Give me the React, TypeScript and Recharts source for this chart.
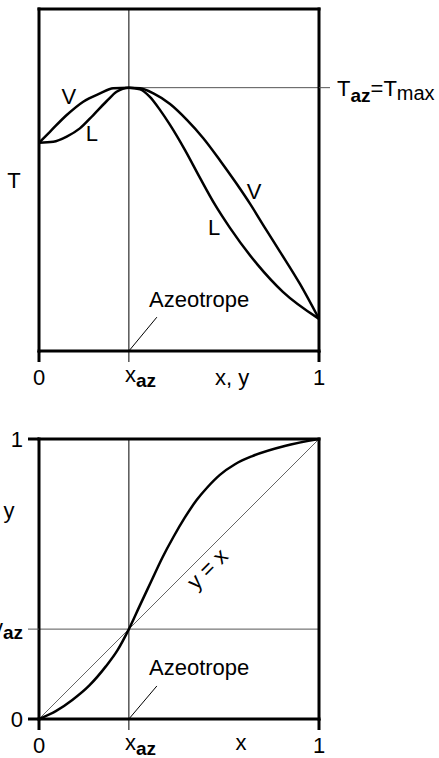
import { LineChart, Line, XAxis, YAxis, ReferenceLine, ReferenceDot } from 'recharts';

const FONT = '"Liberation Sans", Arial, Helvetica, sans-serif';

// azeotrope point (mole fraction, temperature in relative units)
const X_AZ = 0.321;
const Y_AZ = 0.321;
const T_AZ = 77.0;

// dew curve (vapour)
const VAP_X = [0, 0.039, 0.099, 0.158, 0.218, 0.265, 0.321, 0.361, 0.407, 0.468, 0.529, 0.586, 0.646, 0.704, 0.754, 0.807, 0.861, 0.932, 1];
const VAP_T = [60.9, 64.1, 69.0, 72.9, 75.3, 76.8, 77.0, 76.8, 75.4, 72.2, 67.5, 62.3, 55.8, 49.1, 43.0, 36.0, 29.0, 19.6, 9.4];

// bubble curve (liquid)
const LIQ_X = [0, 0.051, 0.099, 0.146, 0.194, 0.242, 0.277, 0.321, 0.361, 0.396, 0.432, 0.468, 0.521, 0.575, 0.629, 0.682, 0.779, 0.871, 1];
const LIQ_T = [60.9, 61.2, 62.7, 65.1, 69.0, 73.1, 75.8, 77.0, 76.5, 74.3, 70.5, 66.1, 58.8, 50.6, 42.7, 36.0, 25.4, 17.3, 9.4];

// equilibrium curve y(x)
const EQ_X = [0, 0.06, 0.119, 0.18, 0.238, 0.28, 0.321, 0.36, 0.4, 0.44, 0.48, 0.52, 0.563, 0.6, 0.646, 0.7, 0.762, 0.881, 1];
const EQ_Y = [0, 0.028, 0.068, 0.12, 0.187, 0.245, 0.321, 0.405, 0.49, 0.575, 0.65, 0.718, 0.782, 0.826, 0.872, 0.91, 0.939, 0.976, 1];

const vapour = VAP_X.map((x, i) => ({ x, T: VAP_T[i] }));
const liquid = LIQ_X.map((x, i) => ({ x, T: LIQ_T[i] }));
const equilibrium = EQ_X.map((x, i) => ({ x, y: EQ_Y[i] }));

const TICK = 11;
const GAP = 2;
const BOX = { stroke: '#000', strokeWidth: 3, strokeLinecap: 'square' as const };

// bottom axis tick: thick at 0 and 1 (box edges), thin at x_az
const XTick = (p: any) => {
  const { x, y, payload } = p;
  const axisY = y - TICK - GAP;
  const az = payload.value === X_AZ;
  return (
    <g>
      <line x1={x} x2={x} y1={axisY} y2={axisY + TICK} stroke="#000" strokeWidth={az ? 1 : 3} />
      {az ? (
        <text x={x - 4} y={y + 18} fontSize={22} fontFamily={FONT} fill="#000">
          x<tspan fontSize={19} fontWeight="bold" dy={5}>az</tspan>
        </text>
      ) : (
        <text x={x} y={y + 21} textAnchor="middle" fontSize={22} fontFamily={FONT} fill="#000">
          {payload.value}
        </text>
      )}
    </g>
  );
};

// left axis tick of the y-x diagram
const YTick = (p: any) => {
  const { x, y, payload } = p;
  const axisX = x + TICK + GAP;
  const az = payload.value === Y_AZ;
  return (
    <g>
      <line x1={axisX - TICK} x2={axisX} y1={y} y2={y} stroke={az ? '#555' : '#000'} strokeWidth={az ? 1 : 3} />
      {az ? (
        <text x={x - 3} y={y + 6} textAnchor="end" fontSize={22} fontFamily={FONT} fill="#000">
          y<tspan fontSize={19} fontWeight="bold" dy={4}>az</tspan>
        </text>
      ) : (
        <text x={x - 3} y={y + 8} textAnchor="end" fontSize={22} fontFamily={FONT} fill="#000">
          {payload.value}
        </text>
      )}
    </g>
  );
};

const TmaxTick = (p: any) => (
  <text x={p.x + 5} y={p.y + 8} fontSize={22} fontFamily={FONT} fill="#000">
    T<tspan fontSize={19} fontWeight="bold" dy={6}>az</tspan>
    <tspan dy={-6}>=T</tspan>
    <tspan fontSize={20} dy={4}>max</tspan>
  </text>
);

const AxisNote = (p: any) => {
  const vb = p.viewBox || { x: 0, y: 0, width: 0 };
  return (
    <text x={vb.x + (p.fx || 0) * vb.width + (p.dx0 || 0)} y={vb.y + p.dy0} textAnchor={p.anchor || 'middle'} fontSize={22} fontFamily={FONT} fill="#000">
      {p.text}
    </text>
  );
};

const Note = (p: any) => {
  const vb = p.viewBox || { x: 0, y: 0 };
  const x = vb.x;
  const y = vb.y;
  return (
    <text
      x={x}
      y={y + (p.dy0 ?? 8)}
      textAnchor={p.anchor || 'middle'}
      fontSize={22}
      fontFamily={FONT}
      fill="#000"
      transform={p.rotate ? `rotate(${p.rotate} ${x} ${y})` : undefined}
    >
      {p.text}
    </text>
  );
};

function TxyDiagram() {
  return (
    <LineChart width={439} height={390} margin={{ top: 8, right: 119, bottom: 38, left: 38 }}>
      <XAxis
        dataKey="x"
        type="number"
        domain={[0, 1]}
        ticks={[0, X_AZ, 1]}
        interval={0}
        height={1}
        tickSize={TICK}
        tickMargin={GAP}
        axisLine={BOX}
        tickLine={false}
        tick={<XTick />}
        label={<AxisNote text="x, y" fx={0.629} dy0={34} anchor="start" />}
        allowDataOverflow
      />
      <XAxis xAxisId="top" orientation="top" type="number" domain={[0, 1]} height={1} axisLine={BOX} tick={false} tickLine={false} />
      <YAxis
        yAxisId="left"
        type="number"
        domain={[0, 100]}
        width={1}
        axisLine={BOX}
        tick={false}
        tickLine={false}
        label={<AxisNote text="T" dx0={-24} dy0={179} />}
      />
      {/* the temperature scale sits on the right so that T_az gets its tick there */}
      <YAxis
        orientation="right"
        type="number"
        domain={[0, 100]}
        width={1}
        ticks={[T_AZ]}
        interval={0}
        tickSize={TICK}
        tickMargin={GAP}
        axisLine={BOX}
        tickLine={{ stroke: '#555', strokeWidth: 1 }}
        tick={<TmaxTick />}
        allowDataOverflow
      />

      <ReferenceLine x={X_AZ} stroke="#000" strokeWidth={1} />
      <ReferenceLine segment={[{ x: X_AZ, y: T_AZ }, { x: 1, y: T_AZ }]} stroke="#555" strokeWidth={1} />
      <ReferenceLine segment={[{ x: X_AZ, y: 0 }, { x: 0.421, y: 9.9 }]} stroke="#000" strokeWidth={1} />

      <Line data={vapour} dataKey="T" type="monotone" stroke="#000" strokeWidth={2.5} dot={false} isAnimationActive={false} />
      <Line data={liquid} dataKey="T" type="monotone" stroke="#000" strokeWidth={2.5} dot={false} isAnimationActive={false} />

      <ReferenceDot x={0.107} y={74.6} r={0} stroke="none" label={<Note text="V" />} />
      <ReferenceDot x={0.189} y={63.7} r={0} stroke="none" label={<Note text="L" />} />
      <ReferenceDot x={0.768} y={46.8} r={0} stroke="none" label={<Note text="V" />} />
      <ReferenceDot x={0.625} y={36.3} r={0} stroke="none" label={<Note text="L" />} />
      <ReferenceDot x={0.393} y={12.9} r={0} stroke="none" label={<Note text="Azeotrope" anchor="start" dy0={0} />} />
    </LineChart>
  );
}

function XyDiagram() {
  return (
    <LineChart width={439} height={368} margin={{ top: 48, right: 119, bottom: 38, left: 38 }}>
      <XAxis
        dataKey="x"
        type="number"
        domain={[0, 1]}
        ticks={[0, X_AZ, 1]}
        interval={0}
        height={1}
        tickSize={TICK}
        tickMargin={GAP}
        axisLine={BOX}
        tickLine={false}
        tick={<XTick />}
        label={<AxisNote text="x" fx={0.721} dy0={31} />}
        allowDataOverflow
      />
      <XAxis xAxisId="top" orientation="top" type="number" domain={[0, 1]} height={1} axisLine={BOX} tick={false} tickLine={false} />
      <YAxis
        type="number"
        domain={[0, 1]}
        ticks={[0, Y_AZ, 1]}
        interval={0}
        width={1}
        tickSize={TICK}
        tickMargin={GAP}
        axisLine={BOX}
        tickLine={false}
        tick={<YTick />}
        label={<AxisNote text="y" dx0={-29} dy0={79} />}
        allowDataOverflow
      />
      <YAxis yAxisId="right" orientation="right" type="number" domain={[0, 1]} width={1} axisLine={BOX} tick={false} tickLine={false} />

      <ReferenceLine x={X_AZ} stroke="#000" strokeWidth={1} />
      <ReferenceLine y={Y_AZ} stroke="#555" strokeWidth={1} />
      <ReferenceLine segment={[{ x: 0, y: 0 }, { x: 1, y: 1 }]} stroke="#666" strokeWidth={1} />
      <ReferenceLine segment={[{ x: X_AZ, y: 0 }, { x: 0.421, y: 0.118 }]} stroke="#000" strokeWidth={1} />

      <Line data={equilibrium} dataKey="y" type="monotone" stroke="#000" strokeWidth={2.5} dot={false} isAnimationActive={false} />

      <ReferenceDot x={0.605} y={0.533} r={0} stroke="none" label={<Note text="y = x" rotate={-45} dy0={6} />} />
      <ReferenceDot x={0.393} y={0.157} r={0} stroke="none" label={<Note text="Azeotrope" anchor="start" dy0={0} />} />
    </LineChart>
  );
}

export default function App() {
  return (
    <div style={{ position: 'absolute', left: 0, top: 0, width: 439, height: 758, background: '#fff' }}>
      <TxyDiagram />
      <XyDiagram />
    </div>
  );
}
